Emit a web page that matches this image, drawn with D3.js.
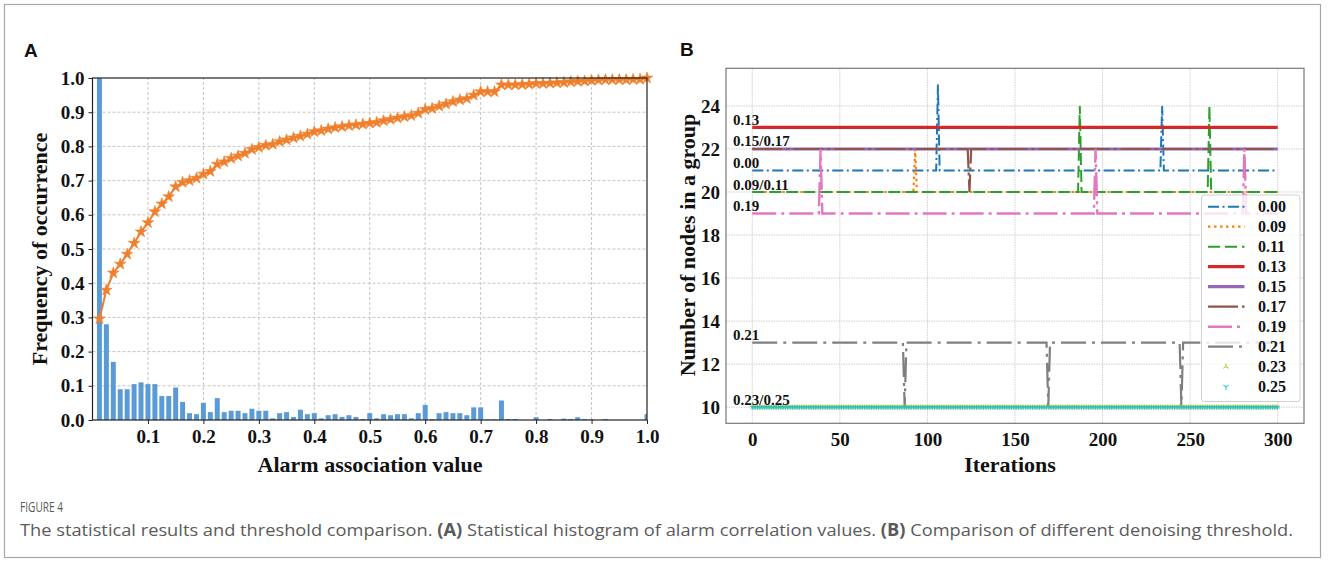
<!DOCTYPE html>
<html>
<head>
<meta charset="utf-8">
<script src="https://cdn.jsdelivr.net/npm/d3@7"></script>
<style>
  body { margin: 0; background: #fff; }
  svg { display: block; }
  .serif { font-family: "Liberation Serif", "Times New Roman", serif; font-weight: bold; fill: #111; }
</style>
</head>
<body>
<svg id="chart" width="1328" height="563"></svg>
<script>
// ---------------- Panel A data ----------------
const binCenters = [
  0.0125,0.025,0.0375,0.05,0.0625,0.075,0.0875,0.1,0.1125,0.125,
  0.1375,0.15,0.1625,0.175,0.1875,0.2,0.2125,0.225,0.2375,0.25,
  0.2625,0.275,0.2875,0.3,0.3125,0.325,0.3375,0.35,0.3625,0.375,
  0.3875,0.4,0.4125,0.425,0.4375,0.45,0.4625,0.475,0.4875,0.5,
  0.5125,0.525,0.5375,0.55,0.5625,0.575,0.5875,0.6,0.6125,0.625,
  0.6375,0.65,0.6625,0.675,0.6875,0.7,0.7125,0.725,0.7375,0.75,
  0.7625,0.775,0.7875,0.8,0.8125,0.825,0.8375,0.85,0.8625,0.875,
  0.8875,0.9,0.9125,0.925,0.9375,0.95,0.9625,0.975,0.9875,1.0
];
const histValues = [
  1.0,0.28,0.17,0.09,0.09,0.105,0.11,0.105,0.105,0.07,
  0.07,0.095,0.053,0.02,0.017,0.05,0.023,0.064,0.023,0.027,
  0.027,0.02,0.033,0.027,0.027,0.005,0.02,0.023,0.009,0.03,
  0.017,0.02,0.005,0.014,0.017,0.009,0.014,0.009,0.003,0.02,
  0.005,0.017,0.014,0.017,0.017,0.005,0.02,0.044,0.003,0.02,
  0.023,0.02,0.02,0.014,0.037,0.037,0.002,0.002,0.057,0.003,
  0.003,0,0,0.008,0,0.003,0,0.004,0.003,0.008,
  0.003,0.002,0,0.003,0,0,0,0,0,0.017
];
const cdfValues = [
  0.296,0.38,0.43,0.456,0.485,0.517,0.55,0.577,0.609,0.632,
  0.653,0.682,0.695,0.70,0.707,0.719,0.727,0.748,0.755,0.765,
  0.772,0.78,0.791,0.797,0.803,0.806,0.814,0.819,0.825,0.83,
  0.836,0.843,0.846,0.851,0.855,0.858,0.861,0.863,0.865,0.868,
  0.87,0.875,0.879,0.883,0.887,0.89,0.897,0.908,0.911,0.918,
  0.924,0.931,0.936,0.94,0.95,0.96,0.96,0.96,0.98,0.98,
  0.98,0.981,0.982,0.984,0.984,0.985,0.986,0.987,0.989,0.99,
  0.991,0.993,0.994,0.995,0.995,0.995,0.995,0.996,0.996,1.0
];
const xTicksA = [0.1,0.2,0.3,0.4,0.5,0.6,0.7,0.8,0.9,1.0];
const yTicksA = [0.0,0.1,0.2,0.3,0.4,0.5,0.6,0.7,0.8,0.9,1.0];

// ---------------- Panel B data ----------------
const seriesNames = ["0.00","0.09","0.11","0.13","0.15","0.17","0.19","0.21","0.23","0.25"];
const s000 = [[0,21],[105,21],[106,25],[107,21],[233,21],[234,24],[235,21],[300,21]];
const s009 = [[0,20],[92,20],[93,22],[94,20],[300,20]];
const s011 = [[0,20],[186,20],[187,24],[188,20],[260,20],[261,24],[262,20],[300,20]];
const s013 = [[0,23],[300,23]];
const s015 = [[0,22],[300,22]];
const s017 = [[0,22],[123,22],[124,20],[125,22],[300,22]];
const s019 = [[0,19],[38,19],[39,22],[40,19],[195,19],[196,22],[197,19],[280,19],[281,22],[282,19],[300,19]];
const s021 = [[0,13],[86,13],[87,10],[88,13],[168,13],[169,10],[170,13],[244,13],[245,10],[246,13],[300,13]];
const s023 = [[0,10],[300,10]];
const s025 = [[0,10],[300,10]];
const xTicksB = [0,50,100,150,200,250,300];
const yTicksB = [10,12,14,16,18,20,22,24];
const inlineLabels = [
  {text:"0.13", value:23},
  {text:"0.15/0.17", value:22},
  {text:"0.00", value:21},
  {text:"0.09/0.11", value:20},
  {text:"0.19", value:19},
  {text:"0.21", value:13},
  {text:"0.23/0.25", value:10}
];

// ---------------- Drawing ----------------
const svg = d3.select("#chart");
svg.append("rect").attr("x",0).attr("y",0).attr("width",1328).attr("height",563).attr("fill","#fff");
svg.append("rect").attr("x",4.5).attr("y",4.5).attr("width",1316).attr("height",553)
  .attr("fill","none").attr("stroke","#a8a8a8").attr("stroke-width",1.2);

// ===== Panel A =====
const xA = d3.scaleLinear().domain([0,1]).range([92.5,647]);
const yA = d3.scaleLinear().domain([0,1]).range([420,78]);
const gA = svg.append("g");

svg.append("defs").append("clipPath").attr("id","clipA")
  .append("rect").attr("x",92.5).attr("y",78).attr("width",647-92.5).attr("height",342);

// grid
gA.append("g").selectAll("line").data(xTicksA.filter(d=>d<1)).join("line")
  .attr("x1",d=>xA(d)).attr("x2",d=>xA(d)).attr("y1",yA(0)).attr("y2",yA(1))
  .attr("stroke","#c4c4c4").attr("stroke-width",1).attr("stroke-dasharray","3,2");
gA.append("g").selectAll("line").data(yTicksA.filter(d=>d>0&&d<1)).join("line")
  .attr("x1",xA(0)).attr("x2",xA(1)).attr("y1",d=>yA(d)).attr("y2",d=>yA(d))
  .attr("stroke","#c4c4c4").attr("stroke-width",1).attr("stroke-dasharray","3,2");

// bars
const barW = xA(0.009)-xA(0);
gA.append("g").attr("clip-path","url(#clipA)").selectAll("rect").data(binCenters).join("rect")
  .attr("x",(d)=>xA(d)-barW/2)
  .attr("y",(d,i)=>yA(histValues[i]))
  .attr("width",barW)
  .attr("height",(d,i)=>yA(0)-yA(histValues[i]))
  .attr("fill","#5b9bd5");

// cdf line
const cdfPts = binCenters.map((d,i)=>[d,cdfValues[i]]);
gA.append("path").datum(cdfPts)
  .attr("d", d3.line().x(d=>xA(d[0])).y(d=>yA(d[1])))
  .attr("fill","none").attr("stroke","#ed7d31").attr("stroke-width",2);
gA.append("g").selectAll("path").data(cdfPts).join("path")
  .attr("transform",d=>`translate(${xA(d[0])},${yA(d[1])})`)
  .attr("d", d3.symbol().type(d3.symbolStar).size(42))
  .attr("fill","#f07f2c").attr("stroke","#f07f2c").attr("stroke-width",0.6);

// spines
gA.append("rect").attr("x",xA(0)).attr("y",yA(1)).attr("width",xA(1)-xA(0)).attr("height",yA(0)-yA(1))
  .attr("fill","none").attr("stroke","#222").attr("stroke-width",1.2);

// axes
const axA_y = gA.append("g").attr("transform",`translate(${xA(0)},0)`)
  .call(d3.axisLeft(yA).tickValues(yTicksA).tickFormat(d3.format(".1f")).tickSize(4).tickPadding(4));
const axA_x = gA.append("g").attr("transform",`translate(0,${yA(0)})`)
  .call(d3.axisBottom(xA).tickValues(xTicksA).tickFormat(d3.format(".1f")).tickSize(4).tickPadding(6));
[axA_y, axA_x].forEach(ax=>{
  ax.select(".domain").remove();
  ax.selectAll("line").attr("stroke","#222");
  ax.selectAll("text").attr("class","serif").style("font-size","19px").attr("fill","#111");
});

gA.append("text").attr("class","serif").attr("x",370).attr("y",472)
  .attr("text-anchor","middle").style("font-size","22px").text("Alarm association value");
gA.append("text").attr("class","serif").attr("transform","translate(47,249) rotate(-90)")
  .attr("text-anchor","middle").style("font-size","22px").text("Frequency of occurrence");
svg.append("text").attr("x",24).attr("y",57)
  .style("font-family","'Liberation Sans', Arial, sans-serif").style("font-weight","bold")
  .style("font-size","19px").attr("fill","#111").text("A");

// ===== Panel B =====
const xB = d3.scaleLinear().domain([-15,315]).range([726,1304]);
const yB = d3.scaleLinear().domain([9.25,25.75]).range([423.3,68.3]);
const gB = svg.append("g");
svg.select("defs").append("clipPath").attr("id","clipB")
  .append("rect").attr("x",726).attr("y",68.3).attr("width",578).attr("height",355);

gB.append("g").selectAll("line").data(xTicksB).join("line")
  .attr("x1",d=>xB(d)).attr("x2",d=>xB(d)).attr("y1",yB(9.25)).attr("y2",yB(25.75))
  .attr("stroke","#cfcfcf").attr("stroke-width",1).attr("stroke-dasharray","1.5,1");
gB.append("g").selectAll("line").data(yTicksB).join("line")
  .attr("x1",xB(-15)).attr("x2",xB(315)).attr("y1",d=>yB(d)).attr("y2",d=>yB(d))
  .attr("stroke","#cfcfcf").attr("stroke-width",1).attr("stroke-dasharray","1.5,1");

const styles = [
  {data:s000, color:"#1f77b4", width:2,   dash:"11,3.5,2,3.5"},
  {data:s009, color:"#ff7f0e", width:2.2, dash:"2.5,3.5"},
  {data:s011, color:"#2ca02c", width:2,   dash:"12,5"},
  {data:s013, color:"#d62728", width:3.2, dash:null},
  {data:s015, color:"#9467bd", width:3.2, dash:null},
  {data:s017, color:"#8c564b", width:2.2, dash:"30,4,3,4"},
  {data:s019, color:"#e377c2", width:2.4, dash:"24,5,3,5"},
  {data:s021, color:"#7f7f7f", width:2.2, dash:"25,6,3,6"},
  {data:s023, color:"#bcbd22", marker:"up"},
  {data:s025, color:"#17becf", marker:"down"}
];

const lineB = d3.line().x(d=>xB(d[0])).y(d=>yB(d[1]));
const plotB = gB.append("g").attr("clip-path","url(#clipB)");

function triPath(dir, r){
  // matplotlib tri markers '1' (down) and '2' (up)
  if(dir==="up") return `M0,0L0,${-r}M0,0L${r*0.87},${r*0.5}M0,0L${-r*0.87},${r*0.5}`;
  return `M0,0L0,${r}M0,0L${r*0.87},${-r*0.5}M0,0L${-r*0.87},${-r*0.5}`;
}

styles.forEach(s=>{
  if(s.marker){
    // one marker per iteration along the (constant) series
    const start = s.data[0][0], end = s.data[s.data.length-1][0];
    const pts = d3.range(start, end+1).map(it=>[it, s.data[0][1]]);
    plotB.append("g").selectAll("path").data(pts).join("path")
      .attr("transform",d=>`translate(${xB(d[0])},${yB(d[1])})`)
      .attr("d",triPath(s.marker,2.6)).attr("stroke",s.color).attr("stroke-width",0.9).attr("fill","none");
  } else {
    plotB.append("path").datum(s.data).attr("d",lineB)
      .attr("fill","none").attr("stroke",s.color).attr("stroke-width",s.width)
      .attr("stroke-dasharray",s.dash).attr("stroke-linecap","butt").attr("stroke-linejoin","miter");
  }
});

// inline labels
gB.append("g").selectAll("text").data(inlineLabels).join("text")
  .attr("class","serif").attr("x",733).attr("y",d=>yB(d.value)-2.5)
  .style("font-size","15px").text(d=>d.text);

// frame
gB.append("rect").attr("x",726).attr("y",68.3).attr("width",578).attr("height",355)
  .attr("fill","none").attr("stroke","#777").attr("stroke-width",1.2);

const axB_y = gB.append("g").attr("transform","translate(726,0)")
  .call(d3.axisLeft(yB).tickValues(yTicksB).tickSize(0).tickPadding(6));
const axB_x = gB.append("g").attr("transform","translate(0,423.3)")
  .call(d3.axisBottom(xB).tickValues(xTicksB).tickSize(0).tickPadding(9));
[axB_y, axB_x].forEach(ax=>{
  ax.select(".domain").remove();
  ax.selectAll("text").attr("class","serif").style("font-size","19px").attr("fill","#111");
});

gB.append("text").attr("class","serif").attr("x",1010).attr("y",472)
  .attr("text-anchor","middle").style("font-size","22px").text("Iterations");
gB.append("text").attr("class","serif").attr("transform","translate(695,245) rotate(-90)")
  .attr("text-anchor","middle").style("font-size","22px").text("Number of nodes in a group");
svg.append("text").attr("x",680).attr("y",56)
  .style("font-family","'Liberation Sans', Arial, sans-serif").style("font-weight","bold")
  .style("font-size","19px").attr("fill","#111").text("B");

// legend
const lg = gB.append("g");
lg.append("rect").attr("x",1201.5).attr("y",195).attr("width",98.5).attr("height",206.5)
  .attr("rx",3).attr("fill","#fff").attr("fill-opacity",0.8).attr("stroke","#d0d0d0");
styles.forEach((s,i)=>{
  const yy = 206.7 + i*20;
  if(s.marker){
    lg.append("path").attr("transform",`translate(1226,${yy})`).attr("d",triPath(s.marker,3.2))
      .attr("stroke",s.color).attr("stroke-width",1).attr("fill","none");
  } else {
    lg.append("line").attr("x1",1208).attr("x2",1244.5).attr("y1",yy).attr("y2",yy)
      .attr("stroke",s.color).attr("stroke-width",s.width).attr("stroke-dasharray",s.dash);
  }
  lg.append("text").attr("class","serif").attr("x",1258).attr("y",yy+5.5)
    .style("font-size","16px").text(seriesNames[i]);
});

// caption
svg.append("text").attr("x",20).attr("y",512)
  .style("font-family","'Open Sans', 'Noto Sans', sans-serif").style("font-size","14.5px")
  .attr("textLength",43).attr("lengthAdjust","spacingAndGlyphs")
  .attr("fill","#5a5a5a").text("FIGURE 4");
const cap = svg.append("text").attr("x",20).attr("y",536)
  .style("font-family","'Open Sans', 'Noto Sans', sans-serif").style("font-size","17px")
  .attr("textLength",1273).attr("lengthAdjust","spacingAndGlyphs")
  .attr("fill","#5a5a5a");
cap.append("tspan").text("The statistical results and threshold comparison. ");
cap.append("tspan").style("font-weight","bold").text("(A)");
cap.append("tspan").text(" Statistical histogram of alarm correlation values. ");
cap.append("tspan").style("font-weight","bold").text("(B)");
cap.append("tspan").text(" Comparison of different denoising threshold.");
</script>
</body>
</html>
